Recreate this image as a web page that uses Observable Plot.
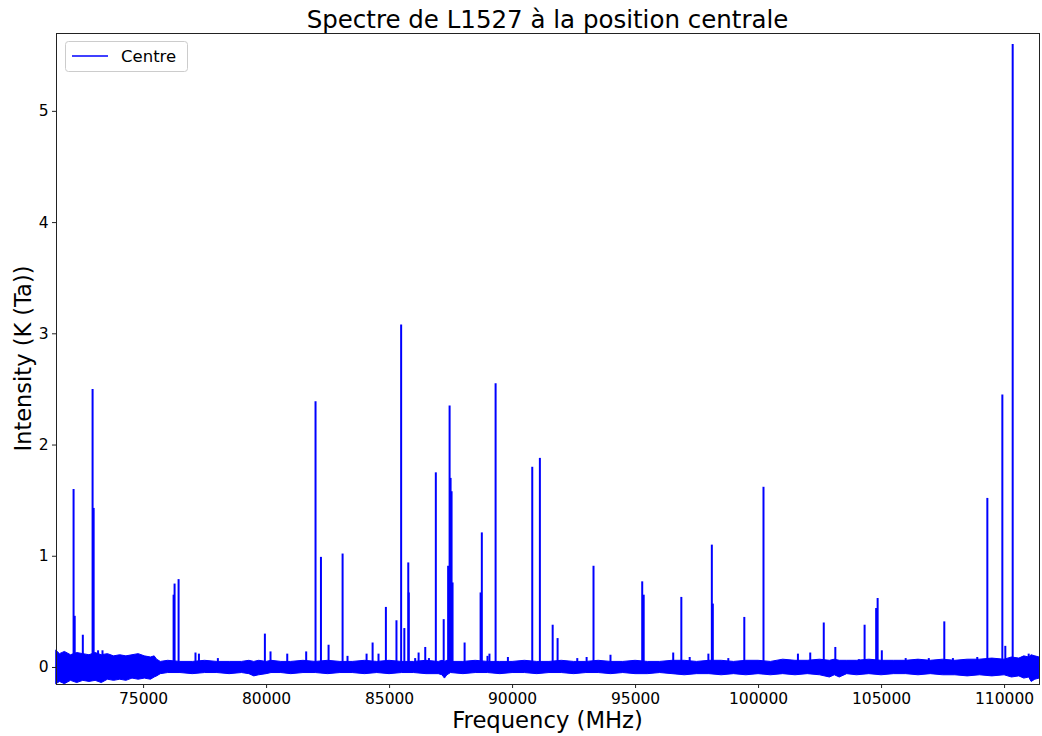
<!DOCTYPE html>
<html><head><meta charset="utf-8">
<script src="https://cdn.jsdelivr.net/npm/d3@7"></script>
<script src="https://cdn.jsdelivr.net/npm/@observablehq/plot@0.6"></script>
<style>body{margin:0;background:#fff;}</style>
</head><body><div id="chart"></div>
<script>
// Spectral line peaks (frequency in MHz, peak intensity in K)
const lineFreq = [72154,72200,72530,72927,72970,73150,73330,
  76220,76260,76423,77110,77250,78020,79931,80160,80840,81610,81990,82210,82520,
  83090,83290,84065,84310,84550,84850,85280,85470,85600,85760,85780,86040,86180,86450,86600,
  86880,87200,87380,87440,87480,87520,87560,88050,88700,88750,88980,89060,89310,89810,
  90800,91110,91630,91830,92630,93010,93290,93980,95270,95330,96530,96860,97200,97960,98100,98140,98770,
  99420,100200,101600,102100,102650,103120,104080,104310,104780,104840,105010,105980,106460,106920,
  107550,107900,108890,109300,109910,110030,110330,110980];
const lineHeight = [1.60,0.46,0.29,2.50,1.43,0.15,0.15,
  0.65,0.75,0.79,0.13,0.12,0.08,0.30,0.14,0.12,0.14,2.39,0.99,0.20,
  1.02,0.10,0.12,0.22,0.12,0.54,0.42,3.08,0.35,0.94,0.67,0.08,0.13,0.18,0.08,
  1.75,0.43,0.91,2.35,1.70,1.58,0.76,0.22,0.67,1.21,0.10,0.12,2.55,0.09,
  1.80,1.88,0.38,0.26,0.08,0.09,0.91,0.11,0.77,0.65,0.13,0.63,0.09,0.12,1.10,0.57,0.08,
  0.45,1.62,0.12,0.13,0.40,0.18,0.07,0.38,0.53,0.62,0.15,0.08,0.07,0.08,
  0.41,0.08,0.09,1.52,2.45,0.19,5.60,0.12];

// Baseline noise envelope
const noiseFreq = [71460,71600,71800,72050,72300,72550,72800,73050,73300,73550,73800,74050,74300,74550,74800,75050,75300,75450,75550,75700,76000,76500,77000,77500,78000,78500,79000,79300,79500,79700,80000,80200,80600,81000,81500,82000,82500,83000,83500,84000,84500,85000,85500,86000,86500,87000,87150,87250,87350,87500,88000,88500,89000,89500,90000,90500,91000,91500,92000,92500,93000,93500,94000,94500,95000,95500,96000,96500,97000,97500,98000,98500,99000,99500,100000,100500,101000,101500,102000,102500,102900,103100,103300,103600,104000,104500,105000,105500,106000,106500,107000,107500,108000,108500,109000,109500,110000,110300,110600,110800,111000,111100,111250,111420];
const noiseUpper = [0.15,0.12,0.14,0.11,0.13,0.12,0.11,0.13,0.11,0.12,0.10,0.11,0.10,0.11,0.12,0.10,0.09,0.10,0.07,0.05,0.06,0.05,0.05,0.06,0.05,0.05,0.05,0.06,0.05,0.06,0.05,0.06,0.05,0.05,0.06,0.05,0.06,0.05,0.05,0.06,0.05,0.06,0.05,0.05,0.06,0.05,0.06,0.05,0.06,0.05,0.05,0.06,0.05,0.05,0.05,0.06,0.05,0.05,0.06,0.05,0.05,0.06,0.05,0.05,0.06,0.05,0.05,0.06,0.06,0.05,0.06,0.06,0.05,0.06,0.06,0.05,0.07,0.06,0.06,0.07,0.06,0.07,0.06,0.06,0.06,0.07,0.06,0.06,0.06,0.07,0.06,0.07,0.06,0.07,0.07,0.08,0.07,0.09,0.08,0.10,0.09,0.11,0.10,0.09];
const noiseLower = [-0.15,-0.13,-0.15,-0.12,-0.14,-0.12,-0.13,-0.12,-0.14,-0.11,-0.12,-0.11,-0.12,-0.10,-0.11,-0.10,-0.11,-0.09,-0.08,-0.06,-0.05,-0.05,-0.06,-0.05,-0.05,-0.06,-0.05,-0.06,-0.08,-0.07,-0.06,-0.05,-0.05,-0.06,-0.05,-0.05,-0.06,-0.05,-0.05,-0.06,-0.05,-0.06,-0.05,-0.05,-0.06,-0.06,-0.07,-0.10,-0.07,-0.05,-0.06,-0.05,-0.05,-0.06,-0.05,-0.05,-0.06,-0.05,-0.05,-0.06,-0.05,-0.05,-0.06,-0.05,-0.06,-0.06,-0.05,-0.06,-0.07,-0.06,-0.06,-0.07,-0.06,-0.07,-0.06,-0.07,-0.06,-0.07,-0.06,-0.07,-0.09,-0.07,-0.09,-0.06,-0.07,-0.06,-0.07,-0.06,-0.06,-0.07,-0.06,-0.07,-0.07,-0.08,-0.07,-0.08,-0.07,-0.09,-0.08,-0.10,-0.09,-0.13,-0.11,-0.10];

const xTicks = [75000,80000,85000,90000,95000,100000,105000,110000];
const yTicks = [0,1,2,3,4,5];

const lines = lineFreq.map((f,i)=>({f, h: lineHeight[i]}));
const noise = noiseFreq.map((f,i)=>({f, hi: noiseUpper[i], lo: noiseLower[i]}));

const plot = Plot.plot({
  width: 1042, height: 736,
  marginLeft: 56, marginRight: 3, marginTop: 33, marginBottom: 52,
  style: {fontFamily: "DejaVu Sans", fontSize: "15.5px", color: "#000", background: "#fff"},
  x: {domain: [71460, 111420]},
  y: {domain: [-0.153, 5.70]},
  marks: [
    Plot.areaY(noise, {x: "f", y1: "lo", y2: "hi", fill: "blue", stroke: "blue", strokeWidth: 1}),
    Plot.ruleX(lines, {x: "f", y1: 0, y2: "h", stroke: "blue", strokeWidth: 2}),
    Plot.frame({stroke: "#222", strokeWidth: 1}),
    Plot.axisX({ticks: xTicks, tickFormat: d => String(d), tickSize: 4, tickPadding: 4, label: null, stroke: "#222"}),
    Plot.axisY({ticks: yTicks, tickFormat: d => String(d), tickSize: 4, tickPadding: 4, label: null, stroke: "#222"})
  ]
});

const svg = d3.select(plot);
svg.append("text").attr("x", 547.5).attr("y", 28).attr("text-anchor", "middle")
  .style("font-size", "24.5px").style("font-family", "DejaVu Sans").attr("fill", "#000")
  .text("Spectre de L1527 à la position centrale");
svg.append("text").attr("x", 547.5).attr("y", 728).attr("text-anchor", "middle")
  .style("font-size", "22.7px").style("font-family", "DejaVu Sans").attr("fill", "#000")
  .text("Frequency (MHz)");
svg.append("text").attr("transform", "translate(31,358.5) rotate(-90)").attr("text-anchor", "middle")
  .style("font-size", "22.5px").style("font-family", "DejaVu Sans").attr("fill", "#000")
  .text("Intensity (K (Ta))");
const lg = svg.append("g");
lg.append("rect").attr("x", 65.5).attr("y", 41.5).attr("width", 122).attr("height", 30).attr("rx", 3)
  .attr("fill", "#fff").attr("fill-opacity", 0.8).attr("stroke", "#ccc");
lg.append("line").attr("x1", 72).attr("x2", 108).attr("y1", 56).attr("y2", 56).attr("stroke", "blue").attr("stroke-width", 1.5);
lg.append("text").attr("x", 121).attr("y", 62).attr("text-anchor", "start").style("font-size", "16.5px").style("font-family", "DejaVu Sans")
  .attr("fill", "#000").text("Centre");

document.getElementById("chart").appendChild(plot);
</script>
</body></html>
